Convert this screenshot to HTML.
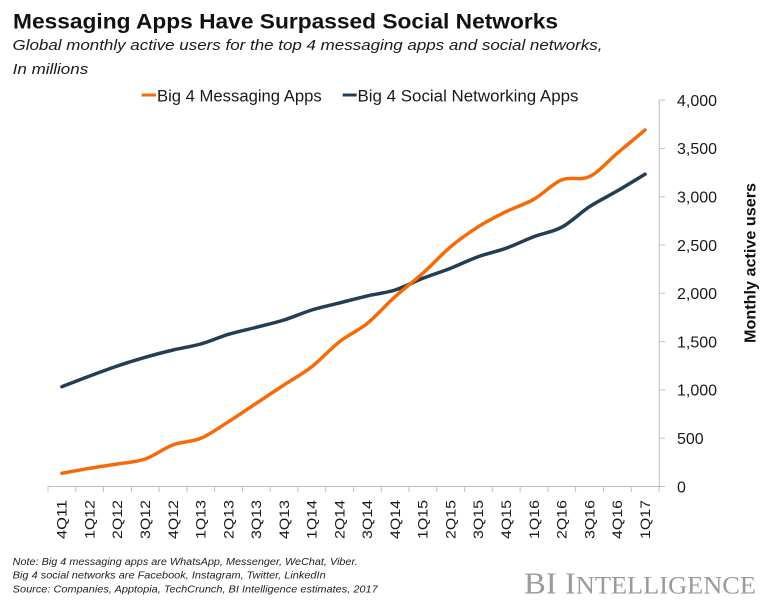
<!DOCTYPE html>
<html>
<head>
<meta charset="utf-8">
<style>
  html, body { margin: 0; padding: 0; background: #ffffff; }
  svg { display: block; }
</style>
</head>
<body>
<svg id="chart" width="780" height="610" viewBox="0 0 780 610" xmlns="http://www.w3.org/2000/svg">
  <rect x="0" y="0" width="780" height="610" fill="#ffffff"/>

  <!-- Title -->
  <text x="13" y="28.5" font-family="Liberation Sans, sans-serif" font-weight="bold" font-size="21" fill="#111" textLength="545" lengthAdjust="spacingAndGlyphs">Messaging Apps Have Surpassed Social Networks</text>
  <text x="12.5" y="50" font-family="Liberation Sans, sans-serif" font-style="italic" font-size="15" fill="#1a1a1a" textLength="590" lengthAdjust="spacingAndGlyphs">Global monthly active users for the top 4 messaging apps and social networks,</text>
  <text x="12.7" y="74" font-family="Liberation Sans, sans-serif" font-style="italic" font-size="15" fill="#1a1a1a" textLength="75.5" lengthAdjust="spacingAndGlyphs">In millions</text>

  <!-- Legend -->
  <line x1="141.7" y1="95" x2="156" y2="95" stroke="#F56B0A" stroke-width="3"/>
  <text x="157" y="101.5" font-family="Liberation Sans, sans-serif" font-size="17" fill="#1a1a1a" textLength="164.7" lengthAdjust="spacingAndGlyphs">Big 4 Messaging Apps</text>
  <line x1="342.7" y1="95" x2="356.7" y2="95" stroke="#253D53" stroke-width="3"/>
  <text x="357.5" y="101.5" font-family="Liberation Sans, sans-serif" font-size="17" fill="#1a1a1a" textLength="221" lengthAdjust="spacingAndGlyphs">Big 4 Social Networking Apps</text>

  <!-- Axes -->
  <g stroke="#BFBFBF" stroke-width="1" fill="none">
    <line x1="48" y1="486.5" x2="659.3" y2="486.5"/>
    <line x1="659.3" y1="100" x2="659.3" y2="486.5"/>
    <line x1="659.3" y1="486.5" x2="665" y2="486.5"/>
    <line x1="659.3" y1="438.2" x2="665" y2="438.2"/>
    <line x1="659.3" y1="389.9" x2="665" y2="389.9"/>
    <line x1="659.3" y1="341.6" x2="665" y2="341.6"/>
    <line x1="659.3" y1="293.3" x2="665" y2="293.3"/>
    <line x1="659.3" y1="245.0" x2="665" y2="245.0"/>
    <line x1="659.3" y1="196.7" x2="665" y2="196.7"/>
    <line x1="659.3" y1="148.4" x2="665" y2="148.4"/>
    <line x1="659.3" y1="100.0" x2="665" y2="100.0"/>
    <line x1="48.0" y1="486.5" x2="48.0" y2="492"/>
    <line x1="75.8" y1="486.5" x2="75.8" y2="492"/>
    <line x1="103.5" y1="486.5" x2="103.5" y2="492"/>
    <line x1="131.3" y1="486.5" x2="131.3" y2="492"/>
    <line x1="159.1" y1="486.5" x2="159.1" y2="492"/>
    <line x1="186.9" y1="486.5" x2="186.9" y2="492"/>
    <line x1="214.6" y1="486.5" x2="214.6" y2="492"/>
    <line x1="242.4" y1="486.5" x2="242.4" y2="492"/>
    <line x1="270.2" y1="486.5" x2="270.2" y2="492"/>
    <line x1="297.9" y1="486.5" x2="297.9" y2="492"/>
    <line x1="325.7" y1="486.5" x2="325.7" y2="492"/>
    <line x1="353.5" y1="486.5" x2="353.5" y2="492"/>
    <line x1="381.2" y1="486.5" x2="381.2" y2="492"/>
    <line x1="409.0" y1="486.5" x2="409.0" y2="492"/>
    <line x1="436.8" y1="486.5" x2="436.8" y2="492"/>
    <line x1="464.6" y1="486.5" x2="464.6" y2="492"/>
    <line x1="492.3" y1="486.5" x2="492.3" y2="492"/>
    <line x1="520.1" y1="486.5" x2="520.1" y2="492"/>
    <line x1="547.9" y1="486.5" x2="547.9" y2="492"/>
    <line x1="575.6" y1="486.5" x2="575.6" y2="492"/>
    <line x1="603.4" y1="486.5" x2="603.4" y2="492"/>
    <line x1="631.2" y1="486.5" x2="631.2" y2="492"/>
    <line x1="659.0" y1="486.5" x2="659.0" y2="492"/>
  </g>

  <!-- Y tick labels -->
  <g font-family="Liberation Sans, sans-serif" font-size="16" fill="#1a1a1a">
    <text x="677" y="492.3">0</text>
    <text x="677" y="444.0">500</text>
    <text x="677" y="395.7">1,000</text>
    <text x="677" y="347.4">1,500</text>
    <text x="677" y="299.1">2,000</text>
    <text x="677" y="250.8">2,500</text>
    <text x="677" y="202.5">3,000</text>
    <text x="677" y="154.2">3,500</text>
    <text x="677" y="105.8">4,000</text>
  </g>

  <!-- Y axis title -->
  <text transform="translate(755.5,263) rotate(-90)" text-anchor="middle" font-family="Liberation Sans, sans-serif" font-weight="bold" font-size="16" fill="#111" textLength="160" lengthAdjust="spacingAndGlyphs">Monthly active users</text>

  <!-- X tick labels -->
  <g font-family="Liberation Sans, sans-serif" font-size="13.5" fill="#1a1a1a" text-anchor="end">
    <text transform="translate(66.7,500) rotate(-90)" textLength="39" lengthAdjust="spacingAndGlyphs">4Q11</text>
    <text transform="translate(94.5,500) rotate(-90)" textLength="39" lengthAdjust="spacingAndGlyphs">1Q12</text>
    <text transform="translate(122.2,500) rotate(-90)" textLength="39" lengthAdjust="spacingAndGlyphs">2Q12</text>
    <text transform="translate(150.0,500) rotate(-90)" textLength="39" lengthAdjust="spacingAndGlyphs">3Q12</text>
    <text transform="translate(177.8,500) rotate(-90)" textLength="39" lengthAdjust="spacingAndGlyphs">4Q12</text>
    <text transform="translate(205.5,500) rotate(-90)" textLength="39" lengthAdjust="spacingAndGlyphs">1Q13</text>
    <text transform="translate(233.3,500) rotate(-90)" textLength="39" lengthAdjust="spacingAndGlyphs">2Q13</text>
    <text transform="translate(261.1,500) rotate(-90)" textLength="39" lengthAdjust="spacingAndGlyphs">3Q13</text>
    <text transform="translate(288.8,500) rotate(-90)" textLength="39" lengthAdjust="spacingAndGlyphs">4Q13</text>
    <text transform="translate(316.6,500) rotate(-90)" textLength="39" lengthAdjust="spacingAndGlyphs">1Q14</text>
    <text transform="translate(344.4,500) rotate(-90)" textLength="39" lengthAdjust="spacingAndGlyphs">2Q14</text>
    <text transform="translate(372.2,500) rotate(-90)" textLength="39" lengthAdjust="spacingAndGlyphs">3Q14</text>
    <text transform="translate(399.9,500) rotate(-90)" textLength="39" lengthAdjust="spacingAndGlyphs">4Q14</text>
    <text transform="translate(427.7,500) rotate(-90)" textLength="39" lengthAdjust="spacingAndGlyphs">1Q15</text>
    <text transform="translate(455.5,500) rotate(-90)" textLength="39" lengthAdjust="spacingAndGlyphs">2Q15</text>
    <text transform="translate(483.2,500) rotate(-90)" textLength="39" lengthAdjust="spacingAndGlyphs">3Q15</text>
    <text transform="translate(511.0,500) rotate(-90)" textLength="39" lengthAdjust="spacingAndGlyphs">4Q15</text>
    <text transform="translate(538.8,500) rotate(-90)" textLength="39" lengthAdjust="spacingAndGlyphs">1Q16</text>
    <text transform="translate(566.5,500) rotate(-90)" textLength="39" lengthAdjust="spacingAndGlyphs">2Q16</text>
    <text transform="translate(594.3,500) rotate(-90)" textLength="39" lengthAdjust="spacingAndGlyphs">3Q16</text>
    <text transform="translate(622.1,500) rotate(-90)" textLength="39" lengthAdjust="spacingAndGlyphs">4Q16</text>
    <text transform="translate(649.8,500) rotate(-90)" textLength="39" lengthAdjust="spacingAndGlyphs">1Q17</text>
  </g>

  <!-- Series -->
  <polyline class="series" fill="none" stroke="#253D53" stroke-width="3.5" stroke-linejoin="round" stroke-linecap="round"
    points="61.9,386.7 89.7,376.0 117.4,366.0 145.2,357.3 173.0,350.0 200.7,344.0 228.5,334.3 256.3,327.3 284.0,320.0 311.8,310.0 339.6,302.9 367.4,295.9 395.1,290.0 422.9,278.3 450.7,268.2 478.4,256.6 506.2,248.2 534.0,236.6 561.7,227.2 589.5,206.7 617.3,190.9 645.0,174.2"/>
  <polyline class="series" fill="none" stroke="#F56B0A" stroke-width="3.5" stroke-linejoin="round" stroke-linecap="round"
    points="61.9,473.3 89.7,468.3 117.4,464.0 145.2,459.0 173.0,444.9 200.7,438.3 228.5,421.7 256.3,403.3 284.0,384.9 311.8,366.7 339.6,341.6 367.4,323.3 395.1,296.6 422.9,273.2 450.7,246.7 478.4,226.7 506.2,211.6 534.0,199.2 561.7,179.9 589.5,176.6 617.3,153.2 645.0,130.0"/>

  <!-- Footer notes -->
  <g font-family="Liberation Sans Narrow, Liberation Sans, sans-serif" font-style="italic" font-size="10" fill="#222">
    <text x="12.7" y="565" textLength="345" lengthAdjust="spacingAndGlyphs">Note: Big 4 messaging apps are WhatsApp, Messenger, WeChat, Viber.</text>
    <text x="12.7" y="578.7" textLength="313" lengthAdjust="spacingAndGlyphs">Big 4 social networks are Facebook, Instagram, Twitter, LinkedIn</text>
    <text x="12.7" y="592.3" textLength="365" lengthAdjust="spacingAndGlyphs">Source: Companies,  Apptopia, TechCrunch,  BI Intelligence estimates, 2017</text>
  </g>

  <!-- BI Intelligence logo -->
  <text x="524" y="593.3" font-family="Liberation Serif, serif" fill="#9a9a9a" textLength="232" lengthAdjust="spacingAndGlyphs"><tspan font-size="31">BI I</tspan><tspan font-size="25">NTELLIGENCE</tspan></text>
</svg>
<script>
(function(){
  try {
    var NS = "http://www.w3.org/2000/svg";
    var lines = document.querySelectorAll("polyline.series");
    for (var k = 0; k < lines.length; k++) {
      var pl = lines[k];
      var pts = pl.getAttribute("points").trim().split(/\s+/).map(function(s){
        var a = s.split(","); return [parseFloat(a[0]), parseFloat(a[1])];
      });
      var d = "M" + pts[0][0] + "," + pts[0][1];
      var t = 1/6;
      for (var i = 0; i < pts.length - 1; i++) {
        var p0 = pts[i > 0 ? i - 1 : i], p1 = pts[i], p2 = pts[i + 1], p3 = pts[i + 2 < pts.length ? i + 2 : i + 1];
        var c1x = p1[0] + (p2[0] - p0[0]) * t, c1y = p1[1] + (p2[1] - p0[1]) * t;
        var c2x = p2[0] - (p3[0] - p1[0]) * t, c2y = p2[1] - (p3[1] - p1[1]) * t;
        d += " C" + c1x.toFixed(2) + "," + c1y.toFixed(2) + " " + c2x.toFixed(2) + "," + c2y.toFixed(2) + " " + p2[0] + "," + p2[1];
      }
      var path = document.createElementNS(NS, "path");
      path.setAttribute("d", d);
      path.setAttribute("fill", "none");
      path.setAttribute("stroke", pl.getAttribute("stroke"));
      path.setAttribute("stroke-width", pl.getAttribute("stroke-width"));
      path.setAttribute("stroke-linejoin", "round");
      path.setAttribute("stroke-linecap", "round");
      pl.parentNode.replaceChild(path, pl);
    }
  } catch (e) {}
})();
</script>
</body>
</html>
